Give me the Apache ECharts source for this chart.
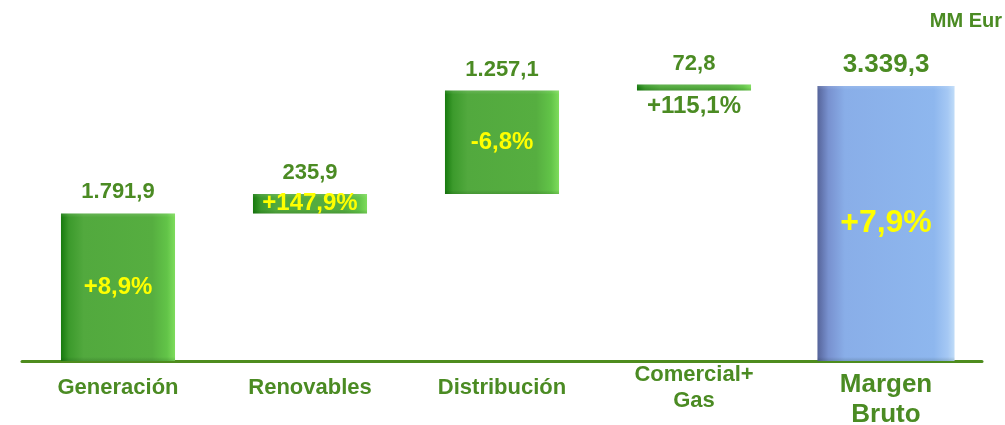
<!DOCTYPE html>
<html><head><meta charset="utf-8">
<script src="https://cdn.jsdelivr.net/npm/echarts@6/dist/echarts.min.js"></script>
<style>html,body{margin:0;padding:0;background:#fff}#c{width:1005px;height:425px}</style>
</head><body><div id="c"></div>
<script>
const categories = ['Generación', 'Renovables', 'Distribución', 'Comercial+\nGas', 'Margen\nBruto'];
const values = [1791.9, 235.9, 1257.1, 72.8, 3339.3];
const valueLabels = ['1.791,9', '235,9', '1.257,1', '72,8', '3.339,3'];
const changeLabels = ['+8,9%', '+147,9%', '-6,8%', '+115,1%', '+7,9%'];
const totalIndex = 4;
const unitLabel = 'MM Eur';

const GREEN_TEXT = '#4B8B23';
const FONT = '"Liberation Sans", Arial, sans-serif';

// waterfall ranges
let acc = 0;
const data = values.map((v, i) => {
  if (i === totalIndex) return [i, 0, v];
  const lo = acc; acc += v;
  return [i, lo, acc];
});

const greenFill = {type: 'linear', x: 0, y: 0, x2: 1, y2: 0, colorStops: [
  {offset: 0, color: '#177A0E'}, {offset: 0.07, color: '#3C9A2C'}, {offset: 0.2, color: '#52A93E'},
  {offset: 0.8, color: '#56AE40'}, {offset: 0.93, color: '#62C448'}, {offset: 1, color: '#7EDC5C'}]};
const blueFill = {type: 'linear', x: 0, y: 0, x2: 1, y2: 0, colorStops: [
  {offset: 0, color: '#56649A'}, {offset: 0.08, color: '#7891CF'}, {offset: 0.2, color: '#89AEE8'},
  {offset: 0.85, color: '#8EB7EE'}, {offset: 0.95, color: '#A5C8F4'}, {offset: 1, color: '#C0DCF8'}]};

const chart = echarts.init(document.getElementById('c'), null, {renderer: 'canvas'});
chart.setOption({
  animation: false,
  title: {text: unitLabel, right: 3, top: 11, padding: 0,
    textStyle: {color: GREEN_TEXT, fontFamily: FONT, fontWeight: 'bold', fontSize: 20}},
  grid: {left: 22, right: 23, top: 64.5, bottom: 64, containLabel: false, outerBoundsMode: 'none'},
  xAxis: {
    type: 'category',
    data: categories.map((c, i) => i === totalIndex
      ? {value: c, textStyle: {fontSize: 26, lineHeight: 30, verticalAlign: 'top', padding: [-18, 0, 0, 0]}}
      : c),
    axisLine: {lineStyle: {color: '#4E8C1E', width: 3}},
    axisTick: {show: false},
    axisLabel: {color: GREEN_TEXT, fontFamily: FONT, fontWeight: 'bold', fontSize: 22,
      lineHeight: 26, margin: 26.5, verticalAlign: 'middle', interval: 0, hideOverlap: false}
  },
  yAxis: {type: 'value', min: 0, max: 3600, show: false, splitLine: {show: false}},
  series: [{
    type: 'custom',
    data: data,
    encode: {x: 0, y: [1, 2]},
    renderItem: function (params, api) {
      const i = api.value(0);
      const pLo = api.coord([i, api.value(1)]);
      const pHi = api.coord([i, api.value(2)]);
      const band = api.size([1, 0])[0];
      const isTotal = i === totalIndex;
      const w = band * (isTotal ? 0.714 : 0.594);
      const x = pLo[0] - w / 2;
      const top = pHi[1];
      const h = pLo[1] - pHi[1];
      const children = [{
        type: 'rect',
        shape: {x: x, y: top, width: w, height: h},
        style: {fill: isTotal ? blueFill : greenFill}
      }, {
        type: 'rect',
        shape: {x: x, y: top, width: w, height: h},
        style: {fill: {type: 'linear', x: 0, y: 0, x2: 0, y2: 1, colorStops: [
          {offset: 0, color: 'rgba(255,255,255,0.12)'}, {offset: Math.min(0.5, 4 / Math.max(h, 1)), color: 'rgba(255,255,255,0)'},
          {offset: Math.max(0.5, 1 - 4 / Math.max(h, 1)), color: 'rgba(0,0,0,0)'}, {offset: 1, color: 'rgba(0,40,0,0.15)'}]}}
      }, {
        type: 'text',
        style: {text: valueLabels[i], x: pLo[0], y: top - 21,
          fill: GREEN_TEXT, fontFamily: FONT, fontWeight: 'bold', fontSize: isTotal ? 26 : 22,
          align: 'center', verticalAlign: 'middle'}
      }];
      const inside = h >= 15;
      children.push({
        type: 'text',
        style: {text: changeLabels[i], x: pLo[0], y: inside ? top + h / 2 : pLo[1] + 16,
          fill: inside ? '#FFFF00' : GREEN_TEXT, fontFamily: FONT, fontWeight: 'bold',
          fontSize: isTotal ? 32 : 24, align: 'center', verticalAlign: 'middle'}
      });
      return {type: 'group', children: children};
    }
  }]
});
</script>
</body></html>
